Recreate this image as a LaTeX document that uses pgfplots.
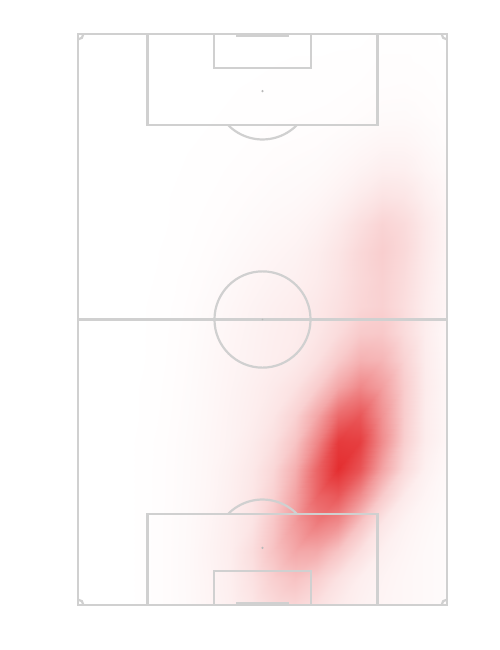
\documentclass[border=0pt]{standalone}
\usepackage{pgfplots}
\usepackage{pgfplotstable}
\pgfplotsset{compat=1.18}
\definecolor{linegray}{RGB}{208,208,208}
\definecolor{spotgray}{RGB}{185,185,185}
\tikzset{pl/.style={draw=linegray, line width=2.2pt}}

% heat values on a grid: x (across pitch, m) and y (from top goal line, m)
\pgfplotstableread[row sep=\\]{
x y z\\
0 0 0\\ 4 0 0\\ 8 0 0\\ 12 0 0\\ 16 0 0\\ 20 0 0\\ 24 0 0\\ 28 0 0\\ 32 0 0\\ 36 0 0\\ 40 0 0\\ 44 0 0\\ 48 0 0\\ 52 0 0\\ 56 0 0.005\\ 60 0 0.005\\ 64 0 0.005\\ 68 0 0\\
0 5 0\\ 4 5 0\\ 8 5 0\\ 12 5 0\\ 16 5 0\\ 20 5 0\\ 24 5 0\\ 28 5 0\\ 32 5 0.001\\ 36 5 0.002\\ 40 5 0.003\\ 44 5 0.003\\ 48 5 0.004\\ 52 5 0.005\\ 56 5 0.008\\ 60 5 0.008\\ 64 5 0.006\\ 68 5 0.003\\
0 10 0\\ 4 10 0\\ 8 10 0\\ 12 10 0\\ 16 10 0\\ 20 10 0\\ 24 10 0.001\\ 28 10 0.002\\ 32 10 0.003\\ 36 10 0.004\\ 40 10 0.004\\ 44 10 0.005\\ 48 10 0.006\\ 52 10 0.008\\ 56 10 0.012\\ 60 10 0.013\\ 64 10 0.01\\ 68 10 0.005\\
0 15 0\\ 4 15 0\\ 8 15 0\\ 12 15 0\\ 16 15 0\\ 20 15 0.001\\ 24 15 0.002\\ 28 15 0.003\\ 32 15 0.005\\ 36 15 0.006\\ 40 15 0.007\\ 44 15 0.008\\ 48 15 0.01\\ 52 15 0.016\\ 56 15 0.023\\ 60 15 0.024\\ 64 15 0.017\\ 68 15 0.008\\
0 20 0\\ 4 20 0\\ 8 20 0\\ 12 20 0\\ 16 20 0.001\\ 20 20 0.002\\ 24 20 0.003\\ 28 20 0.005\\ 32 20 0.008\\ 36 20 0.011\\ 40 20 0.013\\ 44 20 0.016\\ 48 20 0.024\\ 52 20 0.034\\ 56 20 0.046\\ 60 20 0.046\\ 64 20 0.031\\ 68 20 0.014\\
0 25 0\\ 4 25 0\\ 8 25 0\\ 12 25 0\\ 16 25 0.001\\ 20 25 0.003\\ 24 25 0.005\\ 28 25 0.008\\ 32 25 0.012\\ 36 25 0.017\\ 40 25 0.021\\ 44 25 0.026\\ 48 25 0.039\\ 52 25 0.058\\ 56 25 0.08\\ 60 25 0.077\\ 64 25 0.049\\ 68 25 0.024\\
0 30 0\\ 4 30 0\\ 8 30 0\\ 12 30 0\\ 16 30 0.002\\ 20 30 0.004\\ 24 30 0.007\\ 28 30 0.012\\ 32 30 0.018\\ 36 30 0.025\\ 40 30 0.03\\ 44 30 0.042\\ 48 30 0.063\\ 52 30 0.098\\ 56 30 0.134\\ 60 30 0.122\\ 64 30 0.076\\ 68 30 0.036\\
0 35 0\\ 4 35 0\\ 8 35 0\\ 12 35 0.001\\ 16 35 0.002\\ 20 35 0.005\\ 24 35 0.01\\ 28 35 0.017\\ 32 35 0.026\\ 36 35 0.036\\ 40 35 0.045\\ 44 35 0.063\\ 48 35 0.099\\ 52 35 0.153\\ 56 35 0.206\\ 60 35 0.172\\ 64 35 0.104\\ 68 35 0.047\\
0 40 0\\ 4 40 0\\ 8 40 0\\ 12 40 0.001\\ 16 40 0.003\\ 20 40 0.007\\ 24 40 0.014\\ 28 40 0.024\\ 32 40 0.036\\ 36 40 0.048\\ 40 40 0.06\\ 44 40 0.085\\ 48 40 0.125\\ 52 40 0.187\\ 56 40 0.235\\ 60 40 0.183\\ 64 40 0.106\\ 68 40 0.047\\
0 45 0\\ 4 45 0\\ 8 45 0\\ 12 45 0.001\\ 16 45 0.004\\ 20 45 0.01\\ 24 45 0.019\\ 28 45 0.032\\ 32 45 0.047\\ 36 45 0.06\\ 40 45 0.072\\ 44 45 0.094\\ 48 45 0.132\\ 52 45 0.186\\ 56 45 0.223\\ 60 45 0.169\\ 64 45 0.098\\ 68 45 0.044\\
0 50 0\\ 4 50 0\\ 8 50 0\\ 12 50 0.002\\ 16 50 0.005\\ 20 50 0.013\\ 24 50 0.025\\ 28 50 0.04\\ 32 50 0.057\\ 36 50 0.072\\ 40 50 0.086\\ 44 50 0.11\\ 48 50 0.145\\ 52 50 0.195\\ 56 50 0.22\\ 60 50 0.16\\ 64 50 0.09\\ 68 50 0.045\\
0 55 0\\ 4 55 0\\ 8 55 0\\ 12 55 0.002\\ 16 55 0.006\\ 20 55 0.015\\ 24 55 0.029\\ 28 55 0.046\\ 32 55 0.062\\ 36 55 0.078\\ 40 55 0.09\\ 44 55 0.12\\ 48 55 0.17\\ 52 55 0.25\\ 56 55 0.26\\ 60 55 0.17\\ 64 55 0.085\\ 68 55 0.034\\
0 60 0\\ 4 60 0\\ 8 60 0\\ 12 60 0.002\\ 16 60 0.007\\ 20 60 0.017\\ 24 60 0.032\\ 28 60 0.05\\ 32 60 0.065\\ 36 60 0.082\\ 40 60 0.10\\ 44 60 0.15\\ 48 60 0.25\\ 52 60 0.37\\ 56 60 0.35\\ 60 60 0.21\\ 64 60 0.09\\ 68 60 0.036\\
0 65 0\\ 4 65 0\\ 8 65 0\\ 12 65 0.003\\ 16 65 0.008\\ 20 65 0.019\\ 24 65 0.035\\ 28 65 0.054\\ 32 65 0.075\\ 36 65 0.10\\ 40 65 0.14\\ 44 65 0.24\\ 48 65 0.42\\ 52 65 0.57\\ 56 65 0.46\\ 60 65 0.24\\ 64 65 0.095\\ 68 65 0.04\\
0 70 0\\ 4 70 0\\ 8 70 0\\ 12 70 0.003\\ 16 70 0.009\\ 20 70 0.021\\ 24 70 0.037\\ 28 70 0.058\\ 32 70 0.082\\ 36 70 0.12\\ 40 70 0.21\\ 44 70 0.42\\ 48 70 0.71\\ 52 70 0.80\\ 56 70 0.52\\ 60 70 0.24\\ 64 70 0.09\\ 68 70 0.04\\
0 75 0\\ 4 75 0\\ 8 75 0\\ 12 75 0.004\\ 16 75 0.011\\ 20 75 0.023\\ 24 75 0.04\\ 28 75 0.06\\ 32 75 0.095\\ 36 75 0.15\\ 40 75 0.28\\ 44 75 0.58\\ 48 75 0.94\\ 52 75 0.92\\ 56 75 0.55\\ 60 75 0.23\\ 64 75 0.09\\ 68 75 0.04\\
0 80 0\\ 4 80 0\\ 8 80 0\\ 12 80 0.004\\ 16 80 0.012\\ 20 80 0.024\\ 24 80 0.042\\ 28 80 0.07\\ 32 80 0.11\\ 36 80 0.19\\ 40 80 0.38\\ 44 80 0.74\\ 48 80 1.0\\ 52 80 0.82\\ 56 80 0.44\\ 60 80 0.18\\ 64 80 0.07\\ 68 80 0.03\\
0 85 0\\ 4 85 0\\ 8 85 0\\ 12 85 0.004\\ 16 85 0.012\\ 20 85 0.025\\ 24 85 0.044\\ 28 85 0.075\\ 32 85 0.12\\ 36 85 0.22\\ 40 85 0.44\\ 44 85 0.74\\ 48 85 0.80\\ 52 85 0.55\\ 56 85 0.25\\ 60 85 0.10\\ 64 85 0.05\\ 68 85 0.025\\
0 90 0\\ 4 90 0\\ 8 90 0\\ 12 90 0.004\\ 16 90 0.013\\ 20 90 0.027\\ 24 90 0.05\\ 28 90 0.082\\ 32 90 0.13\\ 36 90 0.27\\ 40 90 0.48\\ 44 90 0.63\\ 48 90 0.55\\ 52 90 0.29\\ 56 90 0.12\\ 60 90 0.06\\ 64 90 0.036\\ 68 90 0.02\\
0 95 0\\ 4 95 0\\ 8 95 0\\ 12 95 0.004\\ 16 95 0.013\\ 20 95 0.028\\ 24 95 0.054\\ 28 95 0.085\\ 32 95 0.16\\ 36 95 0.29\\ 40 95 0.42\\ 44 95 0.41\\ 48 95 0.28\\ 52 95 0.15\\ 56 95 0.075\\ 60 95 0.047\\ 64 95 0.03\\ 68 95 0.02\\
0 100 0\\ 4 100 0\\ 8 100 0\\ 12 100 0.004\\ 16 100 0.013\\ 20 100 0.028\\ 24 100 0.05\\ 28 100 0.08\\ 32 100 0.14\\ 36 100 0.23\\ 40 100 0.29\\ 44 100 0.23\\ 48 100 0.14\\ 52 100 0.08\\ 56 100 0.056\\ 60 100 0.04\\ 64 100 0.03\\ 68 100 0.02\\
0 105 0\\ 4 105 0\\ 8 105 0\\ 12 105 0.004\\ 16 105 0.013\\ 20 105 0.027\\ 24 105 0.048\\ 28 105 0.075\\ 32 105 0.12\\ 36 105 0.18\\ 40 105 0.20\\ 44 105 0.15\\ 48 105 0.10\\ 52 105 0.068\\ 56 105 0.05\\ 60 105 0.04\\ 64 105 0.03\\ 68 105 0.02\\
}\heat

\begin{document}
\begin{tikzpicture}
\begin{axis}[
  width=500pt, height=650pt, scale only axis,
  xmin=-14.374, xmax=77.767,
  ymin=-6.252, ymax=113.275,
  y dir=reverse,
  hide axis,
  colormap={heat}{rgb255=(255,255,255) rgb255=(228,46,48)},
  point meta min=0, point meta max=1,
]
\path (rel axis cs:0,0) rectangle (rel axis cs:1,1);
\addplot[surf, shader=interp, mesh/cols=18, point meta=\thisrow{z}] table[x=x, y=y] {\heat};

% pitch markings
\draw[pl] (axis cs:0,0) rectangle (axis cs:68,105);
\draw[pl] (axis cs:0,52.5) -- (axis cs:68,52.5);
\draw[pl] (axis cs:34,52.5) circle[radius=8.85];
% top penalty area, goal area, arc
\draw[pl] (axis cs:12.8,0) -- (axis cs:12.8,16.7) -- (axis cs:55.2,16.7) -- (axis cs:55.2,0);
\draw[pl] (axis cs:25.1,0) -- (axis cs:25.1,6.2) -- (axis cs:42.9,6.2) -- (axis cs:42.9,0);
\draw[pl] (axis cs:40.38,16.7) arc[start angle=44.2, end angle=135.8, radius=8.9];
% bottom penalty area, goal area, arc
\draw[pl] (axis cs:12.8,105) -- (axis cs:12.8,88.3) -- (axis cs:55.2,88.3) -- (axis cs:55.2,105);
\draw[pl] (axis cs:25.1,105) -- (axis cs:25.1,98.8) -- (axis cs:42.9,98.8) -- (axis cs:42.9,105);
\draw[pl] (axis cs:40.38,88.3) arc[start angle=-44.2, end angle=-135.8, radius=8.9];
% goals
\draw[draw=linegray, line width=2.8pt] (axis cs:29.2,0.3) -- (axis cs:38.8,0.3);
\draw[draw=linegray, line width=2.8pt] (axis cs:29.2,104.7) -- (axis cs:38.8,104.7);
% corner arcs
\draw[pl] (axis cs:1,0) arc[start angle=0, end angle=90, radius=1];
\draw[pl] (axis cs:67,0) arc[start angle=180, end angle=90, radius=1];
\draw[pl] (axis cs:1,105) arc[start angle=0, end angle=-90, radius=1];
\draw[pl] (axis cs:67,105) arc[start angle=180, end angle=270, radius=1];
% spots
\fill[spotgray] (axis cs:34,10.5) circle[radius=0.22];
\fill[spotgray] (axis cs:34,94.5) circle[radius=0.22];
\fill[spotgray] (axis cs:34,52.5) circle[radius=0.15];
\end{axis}
\end{tikzpicture}
\end{document}
